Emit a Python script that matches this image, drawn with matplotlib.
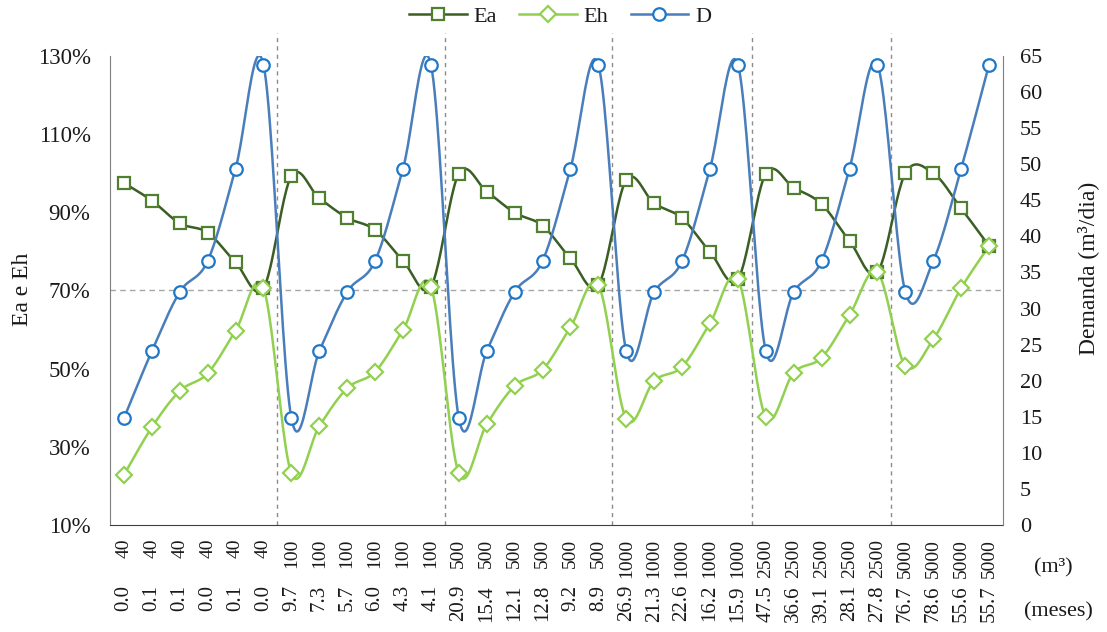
import numpy as np
import matplotlib
matplotlib.use("Agg")
import matplotlib.pyplot as plt
from matplotlib.ticker import FuncFormatter, MultipleLocator, FixedLocator
from matplotlib.lines import Line2D

plt.rcParams['font.family'] = ['Liberation Serif', 'DejaVu Serif']

# Reservoir volume (m³) and supply duration (months) for each scenario
volume = ["40"] * 6 + ["100"] * 6 + ["500"] * 6 + ["1000"] * 5 + ["2500"] * 5 + ["5000"] * 4
meses = ["0.0", "0.1", "0.1", "0.0", "0.1", "0.0",
         "9.7", "7.3", "5.7", "6.0", "4.3", "4.1",
         "20.9", "15.4", "12.1", "12.8", "9.2", "8.9",
         "26.9", "21.3", "22.6", "16.2", "15.9",
         "47.5", "36.6", "39.1", "28.1", "27.8",
         "76.7", "78.6", "55.6", "55.7"]

# Efficiencies (%)
ea = [97.5, 93.0, 87.2, 84.8, 77.2, 70.6,
      99.3, 93.6, 88.6, 85.5, 77.6, 71.0,
      99.9, 95.3, 89.9, 86.6, 78.2, 71.4,
      98.3, 92.3, 88.5, 79.9, 72.9,
      99.9, 96.3, 92.1, 82.7, 74.7,
      100.0, 100.0, 91.0, 81.4]
eh = [22.8, 35.0, 44.3, 48.8, 59.7, 70.6,
      23.2, 35.3, 45.0, 49.2, 59.9, 71.0,
      23.2, 35.8, 45.6, 49.7, 60.6, 71.4,
      37.1, 46.9, 50.5, 61.6, 72.9,
      37.6, 49.0, 52.8, 63.7, 74.7,
      50.7, 57.5, 70.6, 81.4]
# Demand (m³/day)
demanda = [14.8, 24.1, 32.3, 36.6, 49.4, 63.8,
           14.8, 24.1, 32.3, 36.6, 49.4, 63.8,
           14.8, 24.1, 32.3, 36.6, 49.4, 63.8,
           24.1, 32.3, 36.6, 49.4, 63.8,
           24.1, 32.3, 36.6, 49.4, 63.8,
           32.3, 36.6, 49.4, 63.8]

group_sizes = [6, 6, 6, 5, 5, 4]
pct_ticks = [10, 30, 50, 70, 90, 110, 130]

C_EA_LINE, C_EA_MK = "#3b5e25", "#4f7f2f"
C_EH = "#92d050"
C_D_LINE, C_D_MK = "#4a7ebb", "#1f77c8"
TXT = "#1a1a1a"


def smooth(values, n=24):
    """Catmull-Rom style Bezier smoothing through the points."""
    y = np.asarray(values, float)
    P = np.column_stack([np.arange(len(y)), y])
    ext = np.vstack([P[0], P, P[-1]])
    t = np.linspace(0, 1, n)[:, None]
    out = []
    for i in range(len(y) - 1):
        p0, p3 = P[i], P[i + 1]
        c1 = p0 + (ext[i + 2] - ext[i]) / 6
        c2 = p3 - (ext[i + 3] - ext[i + 1]) / 6
        seg = (1 - t) ** 3 * p0 + 3 * (1 - t) ** 2 * t * c1 + 3 * (1 - t) * t ** 2 * c2 + t ** 3 * p3
        out.append(seg if i == 0 else seg[1:])
    return np.vstack(out)


W, H = 1107, 632
fig = plt.figure(figsize=(W / 100, H / 100), dpi=100)
ax = fig.add_axes([110 / W, 1 - 525 / H, (1003 - 110) / W, (525 - 56) / H])
ax2 = ax.twinx()

x = np.arange(len(volume))

# Reference lines
ax.axhline(70, color="#a6a6a6", lw=1.0, ls=(0, (4, 3)), zorder=1)
bounds = np.cumsum(group_sizes)[:-1] - 0.5
for b in bounds:
    ax.plot([b, b], [0, 1.05], transform=ax.get_xaxis_transform(), color="#8c8c8c",
            lw=1.0, ls=(0, (3, 3)), clip_on=False, zorder=1)

mk = dict(markerfacecolor="white", markeredgewidth=1.6, linestyle="none", zorder=4)

c = smooth(ea)
ax.plot(c[:, 0], c[:, 1], color=C_EA_LINE, lw=1.8, zorder=3)
ax.plot(x, ea, marker="s", markersize=9, markeredgecolor=C_EA_MK, **mk)

c = smooth(eh)
ax.plot(c[:, 0], c[:, 1], color=C_EH, lw=1.8, zorder=3)
ax.plot(x, eh, marker="D", markersize=8, markeredgecolor=C_EH, **mk)

c = smooth(demanda)
ax2.plot(c[:, 0], c[:, 1], color=C_D_LINE, lw=1.8, zorder=3)
ax2.plot(x, demanda, marker="o", markersize=9, markeredgecolor=C_D_MK, **mk)

ax.set_xlim(-0.5, len(volume) - 0.5)
ax.set_ylim(10, 130)
ax.yaxis.set_major_locator(FixedLocator(pct_ticks))
ax.yaxis.set_major_formatter(FuncFormatter(lambda v, p: f"{v:.0f}%"))
ax2.set_ylim(0, 65)
ax2.yaxis.set_major_locator(MultipleLocator(5))

for a in (ax, ax2):
    a.spines["top"].set_visible(False)
    a.tick_params(length=0, colors=TXT)
ax.spines["left"].set_color("#7f7f7f")
ax.spines["bottom"].set_color("#404040")
ax.spines["right"].set_visible(False)
ax2.spines["left"].set_visible(False)
ax2.spines["bottom"].set_visible(False)
ax2.spines["right"].set_color("#7f7f7f")

ax.tick_params(axis="y", labelsize=16.5, pad=14)
ax2.tick_params(axis="y", labelsize=16, pad=12)

ax.set_xticks(x)
ax.set_xticklabels(volume, rotation=90, fontsize=14, color=TXT)
ax.tick_params(axis="x", pad=10)

for xi, m in zip(x, meses):
    ax.annotate(m, xy=(xi, 0), xycoords=("data", "axes fraction"),
                xytext=(0, -(585 - 525) * 0.72), textcoords="offset points",
                rotation=90, ha="center", va="top", fontsize=15, color=TXT)

fig.text(22 / W, 1 - 289 / H, "Ea e Eh", rotation=90, ha="center", va="center",
         fontsize=17, color=TXT)
fig.text(1088 / W, 1 - 268 / H, "Demanda (m³/dia)", rotation=90, ha="center", va="center",
         fontsize=17, color=TXT)
fig.text(1053 / W, 1 - 568 / H, "(m³)", ha="center", va="center", fontsize=16, color=TXT)
fig.text(1058 / W, 1 - 612 / H, "(meses)", ha="center", va="center", fontsize=16, color=TXT)

handles = [
    Line2D([], [], color=C_EA_LINE, lw=1.8, marker="s", markersize=9,
           markerfacecolor="white", markeredgecolor=C_EA_MK, markeredgewidth=1.6),
    Line2D([], [], color=C_EH, lw=1.8, marker="D", markersize=8,
           markerfacecolor="white", markeredgecolor=C_EH, markeredgewidth=1.6),
    Line2D([], [], color=C_D_LINE, lw=1.8, marker="o", markersize=9,
           markerfacecolor="white", markeredgecolor=C_D_MK, markeredgewidth=1.6),
]
fig.legend(handles, ["Ea", "Eh", "D"], loc="center", bbox_to_anchor=(560 / W, 1 - 17 / H),
           ncol=3, frameon=False, fontsize=16, handlelength=2.6, columnspacing=1.0,
           handletextpad=0.3, labelcolor=TXT)

fig.savefig("out.png", dpi=100)
